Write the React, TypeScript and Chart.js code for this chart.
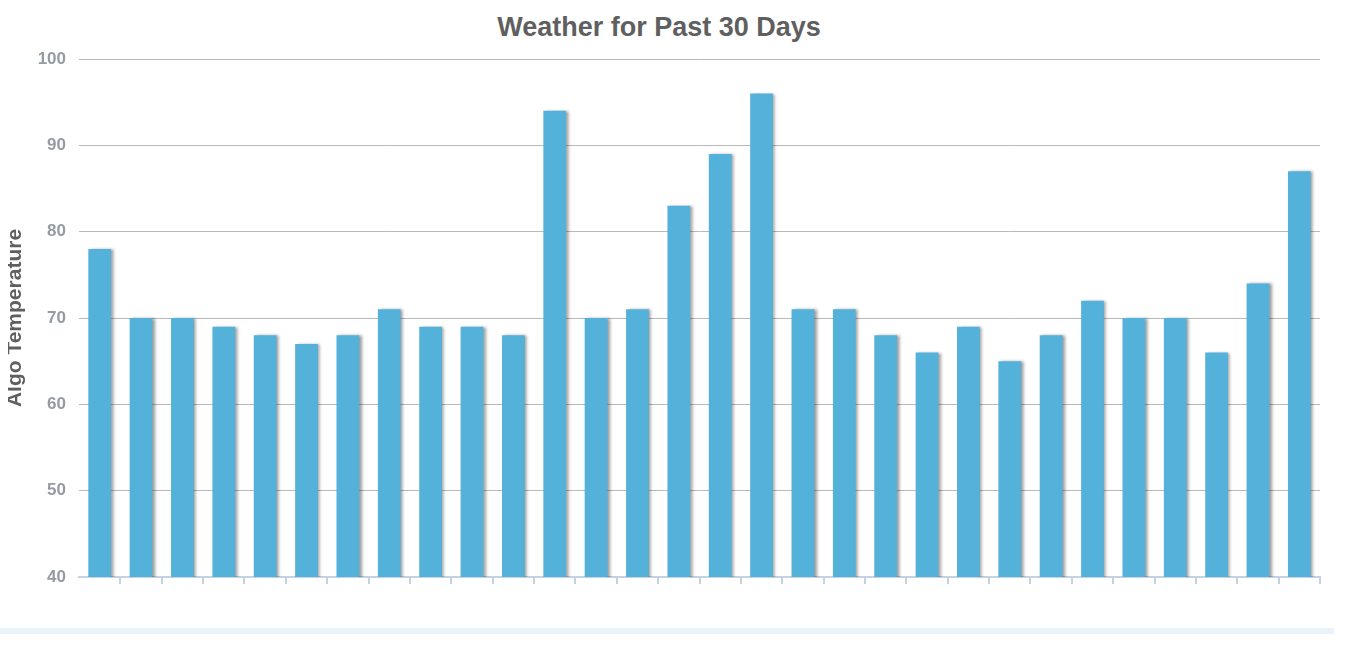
import React, { useEffect, useRef } from "react";
import { Chart, registerables } from "chart.js";

Chart.register(...registerables);

const days: string[] = [
  "Day 1", "Day 2", "Day 3", "Day 4", "Day 5", "Day 6", "Day 7", "Day 8", "Day 9", "Day 10",
  "Day 11", "Day 12", "Day 13", "Day 14", "Day 15", "Day 16", "Day 17", "Day 18", "Day 19", "Day 20",
  "Day 21", "Day 22", "Day 23", "Day 24", "Day 25", "Day 26", "Day 27", "Day 28", "Day 29", "Day 30",
];
const temperatures: number[] = [
  78, 70, 70, 69, 68, 67, 68, 71, 69, 69,
  68, 94, 70, 71, 83, 89, 96, 71, 71, 68,
  66, 69, 65, 68, 72, 70, 70, 66, 74, 87,
];
const yTicks: number[] = [40, 50, 60, 70, 80, 90, 100];

const chartTitle = "Weather for Past 30 Days";
const yTitle = "Algo Temperature";

const shadowPlugin = {
  id: "barShadow",
  beforeDatasetDraw(chart: any) {
    const ctx = chart.ctx;
    ctx.save();
    ctx.shadowColor = "rgba(0,0,0,0.4)";
    ctx.shadowBlur = 3;
    ctx.shadowOffsetX = 2.5;
    ctx.shadowOffsetY = 0;
  },
  afterDatasetDraw(chart: any) {
    chart.ctx.restore();
  },
};

export default function App() {
  const ref = useRef<HTMLCanvasElement | null>(null);

  useEffect(() => {
    if (!ref.current) return;
    const chart = new Chart(ref.current, {
      type: "bar",
      data: {
        labels: days,
        datasets: [
          {
            data: temperatures,
            backgroundColor: "#54b1d9",
            borderWidth: 0,
            barPercentage: 0.55,
            categoryPercentage: 1,
          },
        ],
      },
      plugins: [shadowPlugin],
      options: {
        animation: false,
        responsive: false,
        maintainAspectRatio: false,
        layout: { padding: { top: 51, right: 19, left: 0, bottom: 0 } },
        plugins: {
          legend: { display: false },
          tooltip: { enabled: false },
          title: { display: false },
        },
        scales: {
          x: {
            offset: true,
            afterFit: (s: any) => {
              s.height = 31;
            },
            grid: {
              offset: true,
              drawOnChartArea: false,
              drawTicks: true,
              tickLength: 7,
              lineWidth: 2,
              color: (c: any) => (c.index === 0 ? "rgba(0,0,0,0)" : "#c5d2e1"),
            },
            border: { display: true, color: "#c5d2e1", width: 2 },
            ticks: { display: false },
          },
          y: {
            min: 40,
            max: 100,
            afterFit: (s: any) => {
              s.width = 71;
            },
            afterBuildTicks: (s: any) => {
              s.ticks = yTicks.map((v) => ({ value: v }));
            },
            grid: {
              drawTicks: false,
              color: (c: any) => (c.tick && c.tick.value === 40 ? "rgba(0,0,0,0)" : "#b9b9b9"),
              lineWidth: 1,
            },
            border: { display: false },
            ticks: {
              padding: 13,
              color: "#959ba3",
              font: { family: "Liberation Sans, Arial, sans-serif", size: 17, weight: "bold" },
            },
            title: {
              display: true,
              text: yTitle,
              color: "#5f5f5f",
              padding: 0,
              font: { family: "Liberation Sans, Arial, sans-serif", size: 21, weight: "bold", lineHeight: 0.7 },
            },
          },
        },
      },
    } as any);
    return () => chart.destroy();
  }, []);

  return (
    <div style={{ position: "relative", width: 1331, height: 640 }}>
      <div
        style={{
          position: "absolute",
          left: 0,
          top: 4,
          width: 1302,
          textAlign: "center",
          fontFamily: "Liberation Sans, Arial, sans-serif",
          fontWeight: "bold",
          fontSize: 27,
          color: "#5f5f5f",
          lineHeight: "30px",
        }}
      >
        {chartTitle}
      </div>
      <canvas ref={ref} width={1331} height={600} style={{ position: "absolute", left: 0, top: 0 }} />
      <div
        style={{
          position: "fixed",
          left: 0,
          top: 628,
          width: 1334,
          height: 6,
          background: "#eaf4f8",
        }}
      />
    </div>
  );
}
